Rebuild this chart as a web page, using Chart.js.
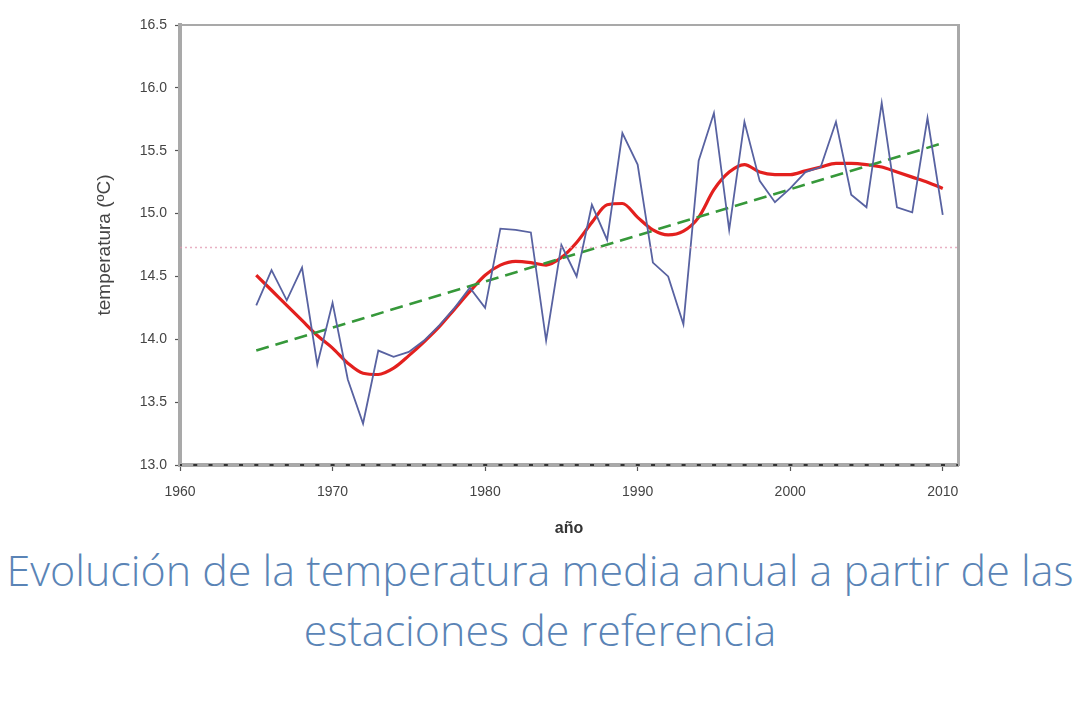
<!DOCTYPE html>
<html lang="es">
<head>
<meta charset="utf-8">
<title>Evolución de la temperatura media anual</title>
<script src="https://cdn.jsdelivr.net/npm/chart.js@4.4.1/dist/chart.umd.min.js"></script>
<style>
  html, body { margin: 0; padding: 0; background: #fff; }
  #wrap { width: 1080px; height: 540px; position: relative; }
  #caption {
    width: 1080px;
    text-align: center;
    font-family: "Open Sans", sans-serif;
    font-weight: 300;
    font-size: 43px;
    line-height: 60px;
    color: #5a84b6;
    white-space: nowrap;
  }
</style>
</head>
<body>
<div id="wrap"><canvas id="chart" width="1080" height="540"></canvas></div>
<div id="caption">Evolución de la temperatura media anual a partir de las<br>estaciones de referencia</div>

<script>
// values
var years = [1965, 1966, 1967, 1968, 1969, 1970, 1971, 1972, 1973, 1974,
             1975, 1976, 1977, 1978, 1979, 1980, 1981, 1982, 1983, 1984,
             1985, 1986, 1987, 1988, 1989, 1990, 1991, 1992, 1993, 1994,
             1995, 1996, 1997, 1998, 1999, 2000, 2001, 2002, 2003, 2004,
             2005, 2006, 2007, 2008, 2009, 2010];

// mean annual temperature (ºC)
var annualTemp = [14.27, 14.55, 14.31, 14.57, 13.80, 14.29, 13.68, 13.33, 13.91, 13.86,
                  13.90, 13.99, 14.11, 14.25, 14.41, 14.25, 14.88, 14.87, 14.85, 13.99,
                  14.75, 14.50, 15.07, 14.79, 15.64, 15.39, 14.61, 14.50, 14.12, 15.42,
                  15.80, 14.87, 15.73, 15.26, 15.09, 15.20, 15.33, 15.37, 15.73, 15.15,
                  15.05, 15.88, 15.05, 15.01, 15.76, 14.99];

// smoothed curve (red)
var smoothTemp = [14.51, 14.39, 14.27, 14.15, 14.03, 13.93, 13.81, 13.73, 13.72, 13.77,
                  13.87, 13.98, 14.10, 14.24, 14.38, 14.51, 14.59, 14.62, 14.61, 14.59,
                  14.65, 14.77, 14.93, 15.07, 15.08, 14.97, 14.87, 14.83, 14.86, 14.97,
                  15.19, 15.33, 15.39, 15.33, 15.31, 15.31, 15.34, 15.37, 15.40, 15.40,
                  15.39, 15.37, 15.33, 15.29, 15.25, 15.20];

// linear trend (green dashed)
var trendYears = [1965, 2010];
var trendTemp = [13.91, 15.56];

// mean level (pink dotted)
var meanYears = [1960, 2011];
var meanTemp = [14.73, 14.73];

// axis range
var baseYears = [1960, 2011];
var baseTemp = [13.0, 13.0];

function pts(xs, ys) {
  return xs.map(function (x, i) { return { x: x, y: ys[i] }; });
}

var frameColor = '#a9a9a9';
var tickFont = { family: '"Liberation Sans", Arial, sans-serif', size: 14 };

var ctx = document.getElementById('chart').getContext('2d');
var chart = new Chart(ctx, {
  type: 'line',
  data: {
    datasets: [
      {
        label: 'media',
        data: pts(meanYears, meanTemp),
        borderColor: 'rgba(225, 150, 175, 0.75)',
        borderWidth: 1.5,
        borderDash: [2, 3],
        pointRadius: 0
      },
      {
        label: 'anual',
        data: pts(years, annualTemp),
        borderColor: '#5862a1',
        borderWidth: 1.8,
        pointRadius: 0,
        tension: 0
      },
      {
        label: 'tendencia',
        data: pts(trendYears, trendTemp),
        borderColor: '#36983a',
        borderWidth: 2.6,
        borderDash: [13, 7],
        pointRadius: 0
      },
      {
        label: 'suavizado',
        data: pts(years, smoothTemp),
        borderColor: '#e3201e',
        borderWidth: 3.2,
        pointRadius: 0,
        cubicInterpolationMode: 'monotone'
      },
      {
        // yearly minor ticks along the bottom axis
        label: 'base',
        data: pts(baseYears, baseTemp),
        borderColor: '#333',
        borderWidth: 2,
        borderDash: [4, 11.26],
        borderDashOffset: 2,
        pointRadius: 0,
        clip: false
      }
    ]
  },
  options: {
    responsive: false,
    animation: false,
    events: [],
    layout: { padding: { left: 80, right: 122, top: 25, bottom: 0 } },
    plugins: {
      legend: { display: false },
      tooltip: { enabled: false }
    },
    scales: {
      x: {
        type: 'linear',
        position: 'bottom',
        min: 1960,
        max: 2011,
        afterFit: function (s) { s.height = 75; },
        border: { display: true, color: frameColor, width: 4 },
        grid: { drawOnChartArea: false, tickLength: 6, color: '#555', tickWidth: 1.2 },
        ticks: {
          stepSize: 10,
          includeBounds: false,
          padding: 13,
          color: '#444',
          font: tickFont,
          maxRotation: 0,
          callback: function (v) { return String(v); }
        },
        title: {
          display: true,
          text: 'año',
          color: '#333',
          font: { family: '"Liberation Sans", Arial, sans-serif', size: 16, weight: 'bold' },
          padding: { top: 0, bottom: 2 }
        }
      },
      x2: {
        type: 'linear',
        position: 'top',
        min: 1960,
        max: 2011,
        afterFit: function (s) { s.height = 0; },
        border: { display: true, color: frameColor, width: 2 },
        grid: { display: false },
        ticks: { display: false }
      },
      y: {
        position: 'left',
        min: 13,
        max: 16.5,
        afterFit: function (s) { s.width = 100; },
        border: { display: true, color: frameColor, width: 4 },
        grid: { drawOnChartArea: false, tickLength: 5, color: '#555', tickWidth: 1.2 },
        ticks: {
          stepSize: 0.5,
          padding: 8,
          color: '#444',
          font: tickFont,
          callback: function (v) { return v.toFixed(1); }
        },
        title: {
          display: true,
          text: 'temperatura (ºC)',
          color: '#444',
          font: { family: '"Liberation Sans", Arial, sans-serif', size: 19 },
          padding: { top: 13, bottom: 0 }
        }
      },
      y2: {
        position: 'right',
        min: 13,
        max: 16.5,
        afterFit: function (s) { s.width = 0; },
        border: { display: true, color: frameColor, width: 3 },
        grid: { display: false },
        ticks: { display: false }
      }
    }
  }
});
</script>
</body>
</html>
